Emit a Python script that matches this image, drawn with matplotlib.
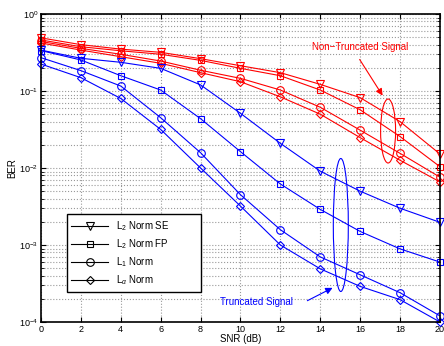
import numpy as np
import matplotlib
matplotlib.use("Agg")
import matplotlib.pyplot as plt
from matplotlib.patches import Ellipse

plt.rcParams['font.family'] = ['Liberation Sans', 'DejaVu Sans']
plt.rcParams['mathtext.fontset'] = 'custom'
plt.rcParams['mathtext.rm'] = 'Liberation Sans'
plt.rcParams['mathtext.it'] = 'Liberation Sans:italic'

snr = [0, 2, 4, 6, 8, 10, 12, 14, 16, 18, 20]

# non-truncated signal (red)
red_se = [0.49, 0.40, 0.35, 0.318, 0.263, 0.213, 0.173, 0.122, 0.082, 0.040, 0.0152]
red_fp = [0.46, 0.376, 0.333, 0.30, 0.25, 0.197, 0.158, 0.103, 0.057, 0.0256, 0.0104]
red_l1 = [0.44, 0.358, 0.30, 0.245, 0.186, 0.146, 0.103, 0.0615, 0.031, 0.0155, 0.0076]
red_la = [0.42, 0.34, 0.279, 0.229, 0.173, 0.132, 0.084, 0.050, 0.0248, 0.0126, 0.0066]

# truncated signal (blue)
blue_se = [0.34, 0.266, 0.236, 0.197, 0.12, 0.0513, 0.0209, 0.0091, 0.0050, 0.0030, 0.00197]
blue_fp = [0.335, 0.253, 0.158, 0.103, 0.0437, 0.0163, 0.0062, 0.0029, 0.0015, 0.00089, 0.0006]
blue_l1 = [0.271, 0.184, 0.116, 0.045, 0.0158, 0.0045, 0.00158, 0.0007, 0.00041, 0.00024, 0.00012]
blue_la = [0.224, 0.149, 0.080, 0.0317, 0.0100, 0.0032, 0.0010, 0.00049, 0.00029, 0.000195, 0.0001]

nomes = [r'L$_\mathregular{2}$ Norm SE', r'L$_\mathregular{2}$ Norm FP',
         r'L$_\mathregular{1}$ Norm', r'L$_\alpha$ Norm']
marcadores = ['v', 's', 'o', 'D']
tamanhos = [5.5, 5, 5.5, 4.5]

fig = plt.figure(figsize=(4.44, 3.46), dpi=100)
ax = fig.add_axes([0.0923, 0.0694, 0.8986, 0.8901])

for serie, m, t in zip([red_se, red_fp, red_l1, red_la], marcadores, tamanhos):
    ax.plot(snr, serie, color='red', marker=m, markersize=t, markeredgewidth=0.8,
            markerfacecolor='none', linewidth=0.8, clip_on=False)
for serie, m, t in zip([blue_se, blue_fp, blue_l1, blue_la], marcadores, tamanhos):
    ax.plot(snr, serie, color='blue', marker=m, markersize=t, markeredgewidth=0.8,
            markerfacecolor='none', linewidth=0.8, clip_on=False)

ax.set_yscale('log')
ax.set_xlim(0, 20)
ax.set_ylim(1e-4, 1)
ax.set_xticks(snr)
ax.tick_params(labelsize=6.5, direction='in', which='both', top=True, right=True, pad=2)
ax.grid(True, which='major', linestyle=':', color='#999999', linewidth=0.8)
ax.grid(True, which='minor', axis='y', linestyle=':', color='#999999', linewidth=0.8)
for s in ax.spines.values():
    s.set_linewidth(1.2)

ax.set_xlabel('SNR (dB)', fontsize=7, labelpad=0)
ax.set_ylabel('BER', fontsize=7, labelpad=1)

# legenda em preto
handles = []
for nome, m, t in zip(nomes, marcadores, tamanhos):
    h, = ax.plot([], [], color='black', marker=m, markersize=t, markeredgewidth=0.8,
                 markerfacecolor='none', linewidth=0.8, label=nome)
    handles.append(h)
leg = ax.legend(handles=handles, loc='lower left',
                bbox_to_anchor=(0.064, 0.097, 0.336, 0.243), mode='expand',
                borderaxespad=0, fontsize=7, handlelength=3.8, fancybox=False,
                framealpha=1, edgecolor='black', borderpad=0.5, labelspacing=0.45)
leg.get_frame().set_linewidth(1.0)

# anotacoes
ax.text(16.0, 10**-0.43, 'Non\u2212Truncated Signal', color='red', fontsize=7,
        ha='center', va='center')
ax.annotate('', xy=(17.2, 10**-1.09), xytext=(15.9, 10**-0.56),
            arrowprops=dict(arrowstyle='-|>', color='red', lw=0.8, mutation_scale=10))
ax.text(10.8, 10**-3.74, 'Truncated Signal', color='blue', fontsize=7,
        ha='center', va='center')
ax.annotate('', xy=(14.74, 10**-3.54), xytext=(13.23, 10**-3.74),
            arrowprops=dict(arrowstyle='-|>', color='blue', lw=0.8, mutation_scale=10))

# elipses desenhadas em pixels (eixo log)
def elipse(cx, cy_log, w_px, h_px, cor):
    x0, y0 = ax.transData.transform((cx, 10**cy_log))
    e = Ellipse((x0, y0), w_px, h_px, fill=False, edgecolor=cor, linewidth=0.8,
                transform=None)
    fig.patches.append(e)

fig.canvas.draw()
elipse(17.4, -(131 - 14) / 77, 15, 64, 'red')
elipse(15.03, -(225 - 14) / 77, 15, 133, 'blue')

plt.savefig('out.png', dpi=100)
